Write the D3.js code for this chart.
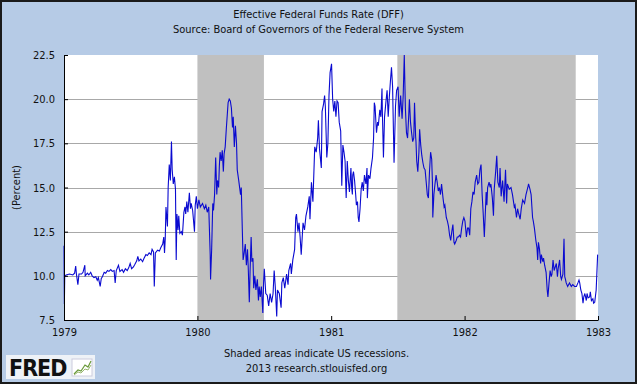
<!DOCTYPE html>
<html>
<head>
<meta charset="utf-8">
<script src="https://cdn.jsdelivr.net/npm/d3@7"></script>
<style>
	body { margin: 0; background: #fff; }
	svg text { font-family: "DejaVu Sans Condensed", "DejaVu Sans", sans-serif; fill: #111; }
</style>
</head>
<body>
<svg id="chart"></svg>
<script>
/* Data (daily effective federal funds rate) */

var TITLE    = "Effective Federal Funds Rate (DFF)",
	SUBTITLE = "Source: Board of Governors of the Federal Reserve System",
	Y_LABEL  = "(Percent)",
	NOTE     = "Shaded areas indicate US recessions.",
	CREDIT   = "2013 research.stlouisfed.org";

var YEAR_TICKS = ["1979", "1980", "1981", "1982", "1983"];
var RATE_TICKS = [7.5, 10.0, 12.5, 15.0, 17.5, 20.0, 22.5];

var RECESSIONS = [["1980-01-01", "1980-07-01"],
                  ["1981-07-01", "1982-11-01"]];

var rates1979 = [
	["1979-01-01",11.7],["1979-01-02",8.4],["1979-01-03",10.0],["1979-01-07",10.05],["1979-01-16",10.1],
	["1979-01-25",10.05],["1979-01-30",10.15],["1979-02-02",10.55],["1979-02-04",10.1],["1979-02-08",9.5],
	["1979-02-11",10.1],["1979-02-18",10.1],["1979-02-22",10.2],["1979-02-27",10.6],["1979-02-28",10.0],
	["1979-03-06",10.15],["1979-03-10",10.05],["1979-03-15",10.2],["1979-03-19",10.0],["1979-03-24",9.9],
	["1979-03-29",9.95],["1979-04-02",9.75],["1979-04-05",9.9],["1979-04-10",9.4],["1979-04-13",9.85],
	["1979-04-16",9.95],["1979-04-21",10.2],["1979-04-25",10.15],["1979-04-30",10.3],["1979-05-04",10.25],
	["1979-05-09",10.35],["1979-05-13",10.25],["1979-05-18",10.3],["1979-05-21",9.6],["1979-05-24",10.3],
	["1979-05-30",10.6],["1979-06-03",10.25],["1979-06-09",10.35],["1979-06-13",10.2],["1979-06-18",10.4],
	["1979-06-23",10.3],["1979-06-27",10.45],["1979-07-01",10.7],["1979-07-05",10.4],["1979-07-10",10.5],
	["1979-07-14",10.65],["1979-07-19",10.85],["1979-07-22",11.1],["1979-07-25",10.85],["1979-07-30",10.95],
	["1979-08-04",10.8],["1979-08-08",11.0],["1979-08-13",11.2],["1979-08-17",11.15],["1979-08-22",11.3],
	["1979-08-27",11.2],["1979-08-30",11.5],["1979-09-03",11.35],["1979-09-05",9.4],["1979-09-08",11.3],
	["1979-09-14",11.45],["1979-09-19",11.4],["1979-09-23",11.6],["1979-09-28",11.8],["1979-10-01",12.2],
	["1979-10-03",11.3],["1979-10-05",12.1],["1979-10-07",13.9],["1979-10-11",12.8],["1979-10-13",15.0],
	["1979-10-16",16.3],["1979-10-19",15.4],["1979-10-22",17.6],["1979-10-24",16.0],["1979-10-27",15.2],
	["1979-10-30",15.6],["1979-11-02",14.9],["1979-11-04",10.9],["1979-11-06",13.5],["1979-11-09",12.6],
	["1979-11-11",13.4],["1979-11-14",12.4],["1979-11-18",12.5],["1979-11-21",12.3],["1979-11-25",13.6],
	["1979-11-28",13.9],["1979-11-30",13.5],["1979-12-03",14.2],["1979-12-06",13.6],["1979-12-10",14.7],
	["1979-12-13",13.8],["1979-12-15",14.1],["1979-12-19",13.7],["1979-12-24",12.5],["1979-12-26",14.0],
	["1979-12-29",14.5]
];

var rates1980 = [
	["1980-01-01",13.8],["1980-01-05",14.3],["1980-01-09",13.9],["1980-01-15",14.1],["1980-01-20",13.8],
	["1980-01-24",14.0],["1980-01-28",13.6],["1980-02-01",13.9],["1980-02-05",11.2],["1980-02-06",9.8],
	["1980-02-09",11.5],["1980-02-12",14.1],["1980-02-14",13.7],["1980-02-17",14.6],["1980-02-20",16.7],
	["1980-02-23",14.6],["1980-02-25",15.4],["1980-02-28",15.0],["1980-03-01",16.2],["1980-03-03",17.0],
	["1980-03-06",16.5],["1980-03-09",17.1],["1980-03-12",15.9],["1980-03-14",16.9],["1980-03-17",17.3],
	["1980-03-20",18.3],["1980-03-23",19.2],["1980-03-25",19.8],["1980-03-28",20.0],["1980-03-31",19.9],
	["1980-04-03",19.5],["1980-04-06",18.4],["1980-04-08",19.0],["1980-04-11",17.3],["1980-04-14",18.5],
	["1980-04-17",17.5],["1980-04-19",16.0],["1980-04-23",15.4],["1980-04-28",14.6],["1980-04-30",15.0],
	["1980-05-03",12.5],["1980-05-05",10.9],["1980-05-08",11.3],["1980-05-11",11.8],["1980-05-14",10.6],
	["1980-05-17",11.5],["1980-05-19",10.5],["1980-05-22",8.5],["1980-05-24",10.2],["1980-05-27",12.2],
	["1980-05-29",10.8],["1980-06-01",11.0],["1980-06-03",9.3],["1980-06-06",10.0],["1980-06-09",9.2],
	["1980-06-13",9.8],["1980-06-16",8.6],["1980-06-18",9.4],["1980-06-21",8.8],["1980-06-24",9.4],
	["1980-06-28",7.9],["1980-06-30",9.6],["1980-07-02",10.4],["1980-07-06",9.0],["1980-07-10",8.9],
	["1980-07-14",8.3],["1980-07-18",9.0],["1980-07-22",8.5],["1980-07-26",9.0],["1980-07-29",10.3],
	["1980-08-01",9.4],["1980-08-05",7.7],["1980-08-07",9.2],["1980-08-12",9.0],["1980-08-17",8.2],
	["1980-08-19",9.6],["1980-08-23",9.9],["1980-08-27",9.3],["1980-09-01",10.1],["1980-09-05",9.5],
	["1980-09-07",10.3],["1980-09-12",10.7],["1980-09-14",10.1],["1980-09-18",10.9],["1980-09-23",11.5],
	["1980-09-26",13.3],["1980-09-28",13.5],["1980-10-02",12.5],["1980-10-05",13.0],["1980-10-08",12.2],
	["1980-10-11",11.2],["1980-10-16",13.0],["1980-10-20",12.6],["1980-10-24",13.4],["1980-10-29",13.9],
	["1980-11-02",14.5],["1980-11-04",13.2],["1980-11-08",15.3],["1980-11-12",14.2],["1980-11-17",17.3],
	["1980-11-21",17.0],["1980-11-25",17.8],["1980-11-27",18.8],["1980-11-30",17.2],["1980-12-05",16.1],
	["1980-12-07",19.3],["1980-12-11",19.7],["1980-12-14",20.2],["1980-12-16",19.6],["1980-12-20",16.7],
	["1980-12-23",17.5],["1980-12-26",20.2],["1980-12-29",21.5]
];

var rates1981 = [
	["1981-01-02",22.0],["1981-01-05",20.0],["1981-01-08",19.3],["1981-01-11",19.9],["1981-01-14",19.0],
	["1981-01-17",19.9],["1981-01-20",19.8],["1981-01-23",18.7],["1981-01-27",18.2],["1981-01-30",15.1],
	["1981-02-02",17.4],["1981-02-05",17.0],["1981-02-08",16.5],["1981-02-11",14.4],["1981-02-14",16.5],
	["1981-02-17",15.4],["1981-02-20",14.75],["1981-02-24",16.1],["1981-02-26",15.0],["1981-02-28",14.6],
	["1981-03-01",15.7],["1981-03-03",15.9],["1981-03-06",15.4],["1981-03-09",14.6],["1981-03-11",14.0],
	["1981-03-14",14.2],["1981-03-16",13.3],["1981-03-18",13.05],["1981-03-21",13.8],["1981-03-24",14.9],
	["1981-03-27",15.3],["1981-03-30",14.8],["1981-04-02",15.7],["1981-04-06",15.2],["1981-04-09",16.1],
	["1981-04-10",14.4],["1981-04-13",15.7],["1981-04-17",15.5],["1981-04-20",16.1],["1981-04-24",16.7],
	["1981-04-27",17.8],["1981-04-29",19.8],["1981-05-01",19.6],["1981-05-05",18.1],["1981-05-08",18.7],
	["1981-05-10",18.5],["1981-05-14",19.4],["1981-05-17",19.0],["1981-05-20",20.6],["1981-05-21",19.3],
	["1981-05-24",16.7],["1981-05-27",19.0],["1981-05-31",19.9],["1981-06-03",20.5],["1981-06-06",19.0],
	["1981-06-09",20.1],["1981-06-12",21.0],["1981-06-15",21.8],["1981-06-18",20.7],["1981-06-22",16.4],
	["1981-06-26",19.6],["1981-06-29",20.5],["1981-07-03",20.7],["1981-07-06",19.0],["1981-07-10",20.2],
	["1981-07-14",18.9],["1981-07-17",20.2],["1981-07-20",22.5],["1981-07-23",19.5],["1981-07-26",18.1],
	["1981-07-29",17.8],["1981-08-01",19.0],["1981-08-03",20.0],["1981-08-06",18.7],["1981-08-09",18.1],
	["1981-08-12",17.6],["1981-08-15",17.8],["1981-08-17",19.8],["1981-08-20",17.9],["1981-08-21",17.6],
	["1981-08-23",16.5],["1981-08-26",15.9],["1981-08-29",17.0],["1981-08-31",18.3],["1981-09-03",17.4],
	["1981-09-06",16.8],["1981-09-09",16.4],["1981-09-12",16.1],["1981-09-15",16.0],["1981-09-18",15.3],
	["1981-09-21",14.6],["1981-09-24",14.4],["1981-09-27",15.9],["1981-09-30",17.0],["1981-10-03",16.6],
	["1981-10-05",15.3],["1981-10-06",13.3],["1981-10-09",14.6],["1981-10-12",15.2],["1981-10-15",15.7],
	["1981-10-18",15.3],["1981-10-21",14.8],["1981-10-24",15.0],["1981-10-27",14.6],["1981-10-30",15.2],
	["1981-11-03",14.4],["1981-11-06",13.9],["1981-11-08",14.0],["1981-11-12",13.3],["1981-11-15",13.1],
	["1981-11-18",12.8],["1981-11-21",12.3],["1981-11-24",12.0],["1981-11-27",12.5],["1981-11-30",12.9],
	["1981-12-03",11.9],["1981-12-05",11.8],["1981-12-09",12.0],["1981-12-12",12.2],["1981-12-15",12.2],
	["1981-12-18",12.3],["1981-12-21",12.2],["1981-12-24",12.7],["1981-12-27",13.1],["1981-12-30",13.3]
];

var rates1982 = [
	["1982-01-02",13.1],["1982-01-06",12.2],["1982-01-09",12.7],["1982-01-12",12.7],["1982-01-15",12.3],
	["1982-01-18",13.8],["1982-01-21",14.2],["1982-01-24",14.75],["1982-01-27",14.6],["1982-01-30",15.3],
	["1982-02-03",15.7],["1982-02-06",15.2],["1982-02-09",15.3],["1982-02-12",16.0],["1982-02-15",16.3],
	["1982-02-18",14.6],["1982-02-21",13.5],["1982-02-24",12.2],["1982-02-27",13.7],["1982-03-01",14.75],
	["1982-03-03",14.0],["1982-03-05",15.0],["1982-03-09",15.3],["1982-03-12",15.0],["1982-03-14",15.2],
	["1982-03-18",14.4],["1982-03-21",13.4],["1982-03-23",14.9],["1982-03-27",15.9],["1982-03-30",16.8],
	["1982-04-02",15.3],["1982-04-06",15.0],["1982-04-08",16.1],["1982-04-11",14.5],["1982-04-15",15.4],
	["1982-04-19",14.2],["1982-04-23",16.0],["1982-04-26",14.1],["1982-04-28",15.2],["1982-05-03",14.9],
	["1982-05-08",15.0],["1982-05-12",14.6],["1982-05-17",13.9],["1982-05-19",14.0],["1982-05-23",13.3],
	["1982-05-26",13.8],["1982-05-28",13.6],["1982-06-02",13.2],["1982-06-05",13.8],["1982-06-09",14.3],
	["1982-06-14",14.1],["1982-06-18",14.6],["1982-06-23",15.0],["1982-06-25",15.2],["1982-06-29",14.9],
	["1982-07-02",14.6],["1982-07-06",13.3],["1982-07-08",13.1],["1982-07-11",12.7],["1982-07-15",12.0],
	["1982-07-18",11.6],["1982-07-20",10.9],["1982-07-22",11.9],["1982-07-25",11.5],["1982-07-28",10.7],
	["1982-07-30",11.2],["1982-08-03",10.8],["1982-08-05",11.0],["1982-08-08",10.6],["1982-08-12",10.2],
	["1982-08-15",9.2],["1982-08-17",8.8],["1982-08-20",9.6],["1982-08-23",10.3],["1982-08-26",9.95],
	["1982-08-28",10.1],["1982-08-31",10.9],["1982-09-03",10.3],["1982-09-06",10.5],["1982-09-09",10.7],
	["1982-09-12",9.95],["1982-09-14",10.4],["1982-09-18",10.9],["1982-09-21",9.95],["1982-09-23",9.8],
	["1982-09-27",10.1],["1982-09-30",12.1],["1982-10-02",9.95],["1982-10-04",9.8],["1982-10-06",9.6],
	["1982-10-10",9.4],["1982-10-15",9.6],["1982-10-20",9.4],["1982-10-24",9.5],["1982-10-29",9.4],
	["1982-11-03",9.4],["1982-11-07",9.6],["1982-11-10",9.76],["1982-11-12",9.6],["1982-11-15",9.2],
	["1982-11-18",9.0],["1982-11-21",8.45],["1982-11-23",8.8],["1982-11-26",9.0],["1982-11-30",8.6],
	["1982-12-02",9.0],["1982-12-05",8.75],["1982-12-09",8.8],["1982-12-11",9.1],["1982-12-14",8.6],
	["1982-12-18",8.7],["1982-12-20",8.45],["1982-12-23",8.5],["1982-12-27",9.2],["1982-12-31",11.2]
];


/* Measures */

var W = 637,
	H = 384;

var PLOT = { left: 64, right: 598, top: 55, bottom: 320 };

var TICK_SIZE = 4,
	FONT_SIZE = 10;

/* Colours */

var BACKGROUND  = "#b6cbe6",
	RECESSION   = "#c0c0c0",
	GRID        = "#a8a8a8",
	SERIES      = "#0a0ad0",
	BORDER      = "#1a1a1a";


var parseDate = d3.timeParse("%Y-%m-%d");

var series = rates1979.concat(rates1980, rates1981, rates1982).map(function(d) {
	return { date: parseDate(d[0]), value: d[1] };
});

var svg = d3.select("#chart")
	.attr("width", W)
	.attr("height", H);

var x = d3.scaleTime()
	.domain([parseDate("1979-01-01"), parseDate("1983-01-01")])
	.range([PLOT.left, PLOT.right]);

var y = d3.scaleLinear()
	.domain([7.5, 22.5])
	.range([PLOT.bottom, PLOT.top]);

function drawFrame() {
	svg.append("rect")
		.attr("x", 1)
		.attr("y", 1)
		.attr("width", W - 2)
		.attr("height", H - 2)
		.attr("fill", BACKGROUND)
		.attr("stroke", BORDER)
		.attr("stroke-width", 2);

	svg.append("rect")
		.attr("x", PLOT.left)
		.attr("y", PLOT.top)
		.attr("width", PLOT.right - PLOT.left)
		.attr("height", PLOT.bottom - PLOT.top)
		.attr("fill", "#fff");
}

function drawGrid() {
	svg.append("g")
		.selectAll("line")
		.data(RATE_TICKS.slice(1, -1))
		.enter().append("line")
		.attr("x1", PLOT.left)
		.attr("x2", PLOT.right)
		.attr("y1", function(d) { return Math.round(y(d)) + 0.5; })
		.attr("y2", function(d) { return Math.round(y(d)) + 0.5; })
		.attr("stroke", GRID)
		.attr("stroke-width", 1);

	svg.append("g")
		.selectAll("rect")
		.data(RECESSIONS)
		.enter().append("rect")
		.attr("x", function(d) { return x(parseDate(d[0])); })
		.attr("y", PLOT.top)
		.attr("width", function(d) { return x(parseDate(d[1])) - x(parseDate(d[0])); })
		.attr("height", PLOT.bottom - PLOT.top)
		.attr("fill", RECESSION);
}

function drawAxes() {
	var xAxis = d3.axisBottom(x)
		.tickValues(YEAR_TICKS.map(function(yr) { return parseDate(yr + "-01-01"); }))
		.tickFormat(d3.timeFormat("%Y"))
		.tickSizeInner(-TICK_SIZE)
		.tickSizeOuter(0)
		.tickPadding(TICK_SIZE + 4);

	var yAxis = d3.axisLeft(y)
		.tickValues(RATE_TICKS)
		.tickFormat(d3.format(".1f"))
		.tickSizeInner(-TICK_SIZE)
		.tickSizeOuter(0)
		.tickPadding(TICK_SIZE + 5);

	var gx = svg.append("g")
		.attr("transform", "translate(0," + PLOT.bottom + ")")
		.call(xAxis);

	var gy = svg.append("g")
		.attr("transform", "translate(" + PLOT.left + ",0)")
		.call(yAxis);

	[gx, gy].forEach(function(g) {
		g.selectAll("path, line").attr("stroke", "#000");
		g.selectAll("text")
			.attr("font-family", null)
			.attr("font-size", FONT_SIZE + 1)
			.attr("fill", "#111");
	});

	svg.append("text")
		.attr("transform", "translate(20 " + ((PLOT.top + PLOT.bottom) / 2) + ") rotate(-90)")
		.attr("text-anchor", "middle")
		.attr("font-size", FONT_SIZE + 1)
		.text(Y_LABEL);
}

function drawSeries() {
	var line = d3.line()
		.x(function(d) { return x(d.date); })
		.y(function(d) { return y(d.value); });

	svg.append("path")
		.datum(series)
		.attr("d", line)
		.attr("fill", "none")
		.attr("stroke", SERIES)
		.attr("stroke-width", 1.1)
		.attr("stroke-linejoin", "miter");
}

function drawTexts() {
	svg.selectAll("text.heading")
		.data([TITLE, SUBTITLE])
		.enter().append("text")
		.classed("heading", true)
		.attr("x", W / 2)
		.attr("y", function(d, i) { return 18 + i * 15; })
		.attr("text-anchor", "middle")
		.attr("font-size", FONT_SIZE + 1)
		.text(String);

	svg.selectAll("text.note")
		.data([NOTE, CREDIT])
		.enter().append("text")
		.classed("note", true)
		.attr("x", W / 2 - 2)
		.attr("y", function(d, i) { return 357 + i * 15; })
		.attr("text-anchor", "middle")
		.attr("font-size", FONT_SIZE + 1)
		.text(String);
}

function drawLogo() {
	var logo = svg.append("g").attr("transform", "translate(6 355)");

	logo.append("rect")
		.attr("width", 89)
		.attr("height", 24)
		.attr("fill", "#eef2f7");

	logo.append("text")
		.attr("x", 3)
		.attr("y", 21)
		.attr("font-family", "'Liberation Sans', Arial, sans-serif")
		.attr("font-weight", "bold")
		.attr("font-size", 23)
		.attr("letter-spacing", -1)
		.attr("fill", "#111")
		.text("FRED");

	var icon = logo.append("g").attr("transform", "translate(66 4)");
	icon.append("rect")
		.attr("width", 20)
		.attr("height", 17)
		.attr("fill", "#fff")
		.attr("stroke", "#ccd");
	icon.append("polyline")
		.attr("points", "2,15 6,11 9,12 13,6 16,8 19,2")
		.attr("fill", "none")
		.attr("stroke", "#6a9a3a")
		.attr("stroke-width", 1.2);
	icon.append("polyline")
		.attr("points", "2,16 6,13 9,14 13,10 16,11 19,6")
		.attr("fill", "none")
		.attr("stroke", "#9ab870")
		.attr("stroke-width", 1);
}

drawFrame();
drawGrid();
drawSeries();
drawAxes();
drawTexts();
drawLogo();
</script>
</body>
</html>
